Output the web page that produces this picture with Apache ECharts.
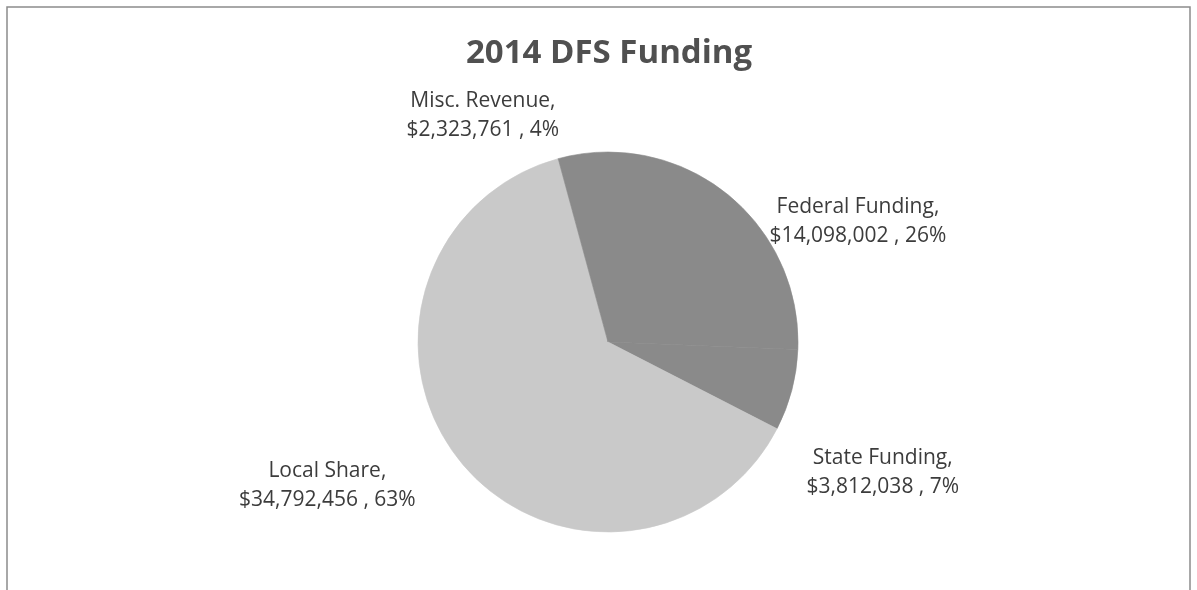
<!DOCTYPE html>
<html>
<head>
<meta charset="utf-8">
<title>2014 DFS Funding</title>
<script src="https://cdn.jsdelivr.net/npm/echarts@6/dist/echarts.min.js"></script>
<style>
html,body{margin:0;padding:0;background:#fff;}
#chart{width:1197px;height:590px;}
</style>
</head>
<body>
<div id="chart"></div>
<script>
// data (Excel order, clockwise from 12 o'clock)
var names = ['Federal Funding', 'State Funding', 'Local Share', 'Misc. Revenue'];
var amounts = [14098002, 3812038, 34792456, 2323761];
var percents = [26, 7, 63, 4];

var colors = ['#8a8a8a', '#8a8a8a', '#c9c9c9', '#8a8a8a'];
// nudges from echarts' default outside label spot to where Excel put them
var labelShift = {
	'Federal Funding': [108, 11],
	'State Funding': [86, 82],
	'Local Share': [-128, 24],
	'Misc. Revenue': [-95, -38]
};

function money(v){
	return '$' + v.toString().replace(/\B(?=(\d{3})+(?!\d))/g, ',');
}

var values = [];
for (var i = 0; i < names.length; i++) {
	values.push({
		name: names[i],
		value: amounts[i],
		pct: percents[i],
		itemStyle: {color: colors[i], borderColor: colors[i], borderWidth: 0.6}
	});
}

var myChart = echarts.init(document.getElementById('chart'));
var option = {
	animation: false,
	title: {
		text: '2014 DFS Funding',
		left: 461,
		top: 32,
		textStyle: {fontFamily: 'Open Sans', fontWeight: 'bold', fontSize: 33, color: '#505050'}
	},
	graphic: [{
		type: 'rect',
		shape: {x: 7, y: 7, width: 1183, height: 620},
		style: {fill: 'none', stroke: '#8c8c8c', lineWidth: 1.5},
		silent: true
	}],
	series: [{
		type: 'pie',
		radius: 190,
		center: [608, 342],
		startAngle: 90,
		clockwise: true,
		avoidLabelOverlap: false,
		label: {
			show: true,
			position: 'outside',
			fontFamily: 'Open Sans',
			fontSize: 21,
			lineHeight: 29,
			color: '#3c3c3c',
			formatter: function(p){
				return p.name + ',\n' + money(p.value) + ' , ' + p.data.pct + '%';
			}
		},
		labelLine: {show: false, length: 0, length2: 0},
		labelLayout: function(p){
			var s = labelShift[names[p.dataIndex]];
			return {align: 'center', dx: s[0], dy: s[1]};
		},
		data: values
	}]
};
myChart.setOption(option);
</script>
</body>
</html>
